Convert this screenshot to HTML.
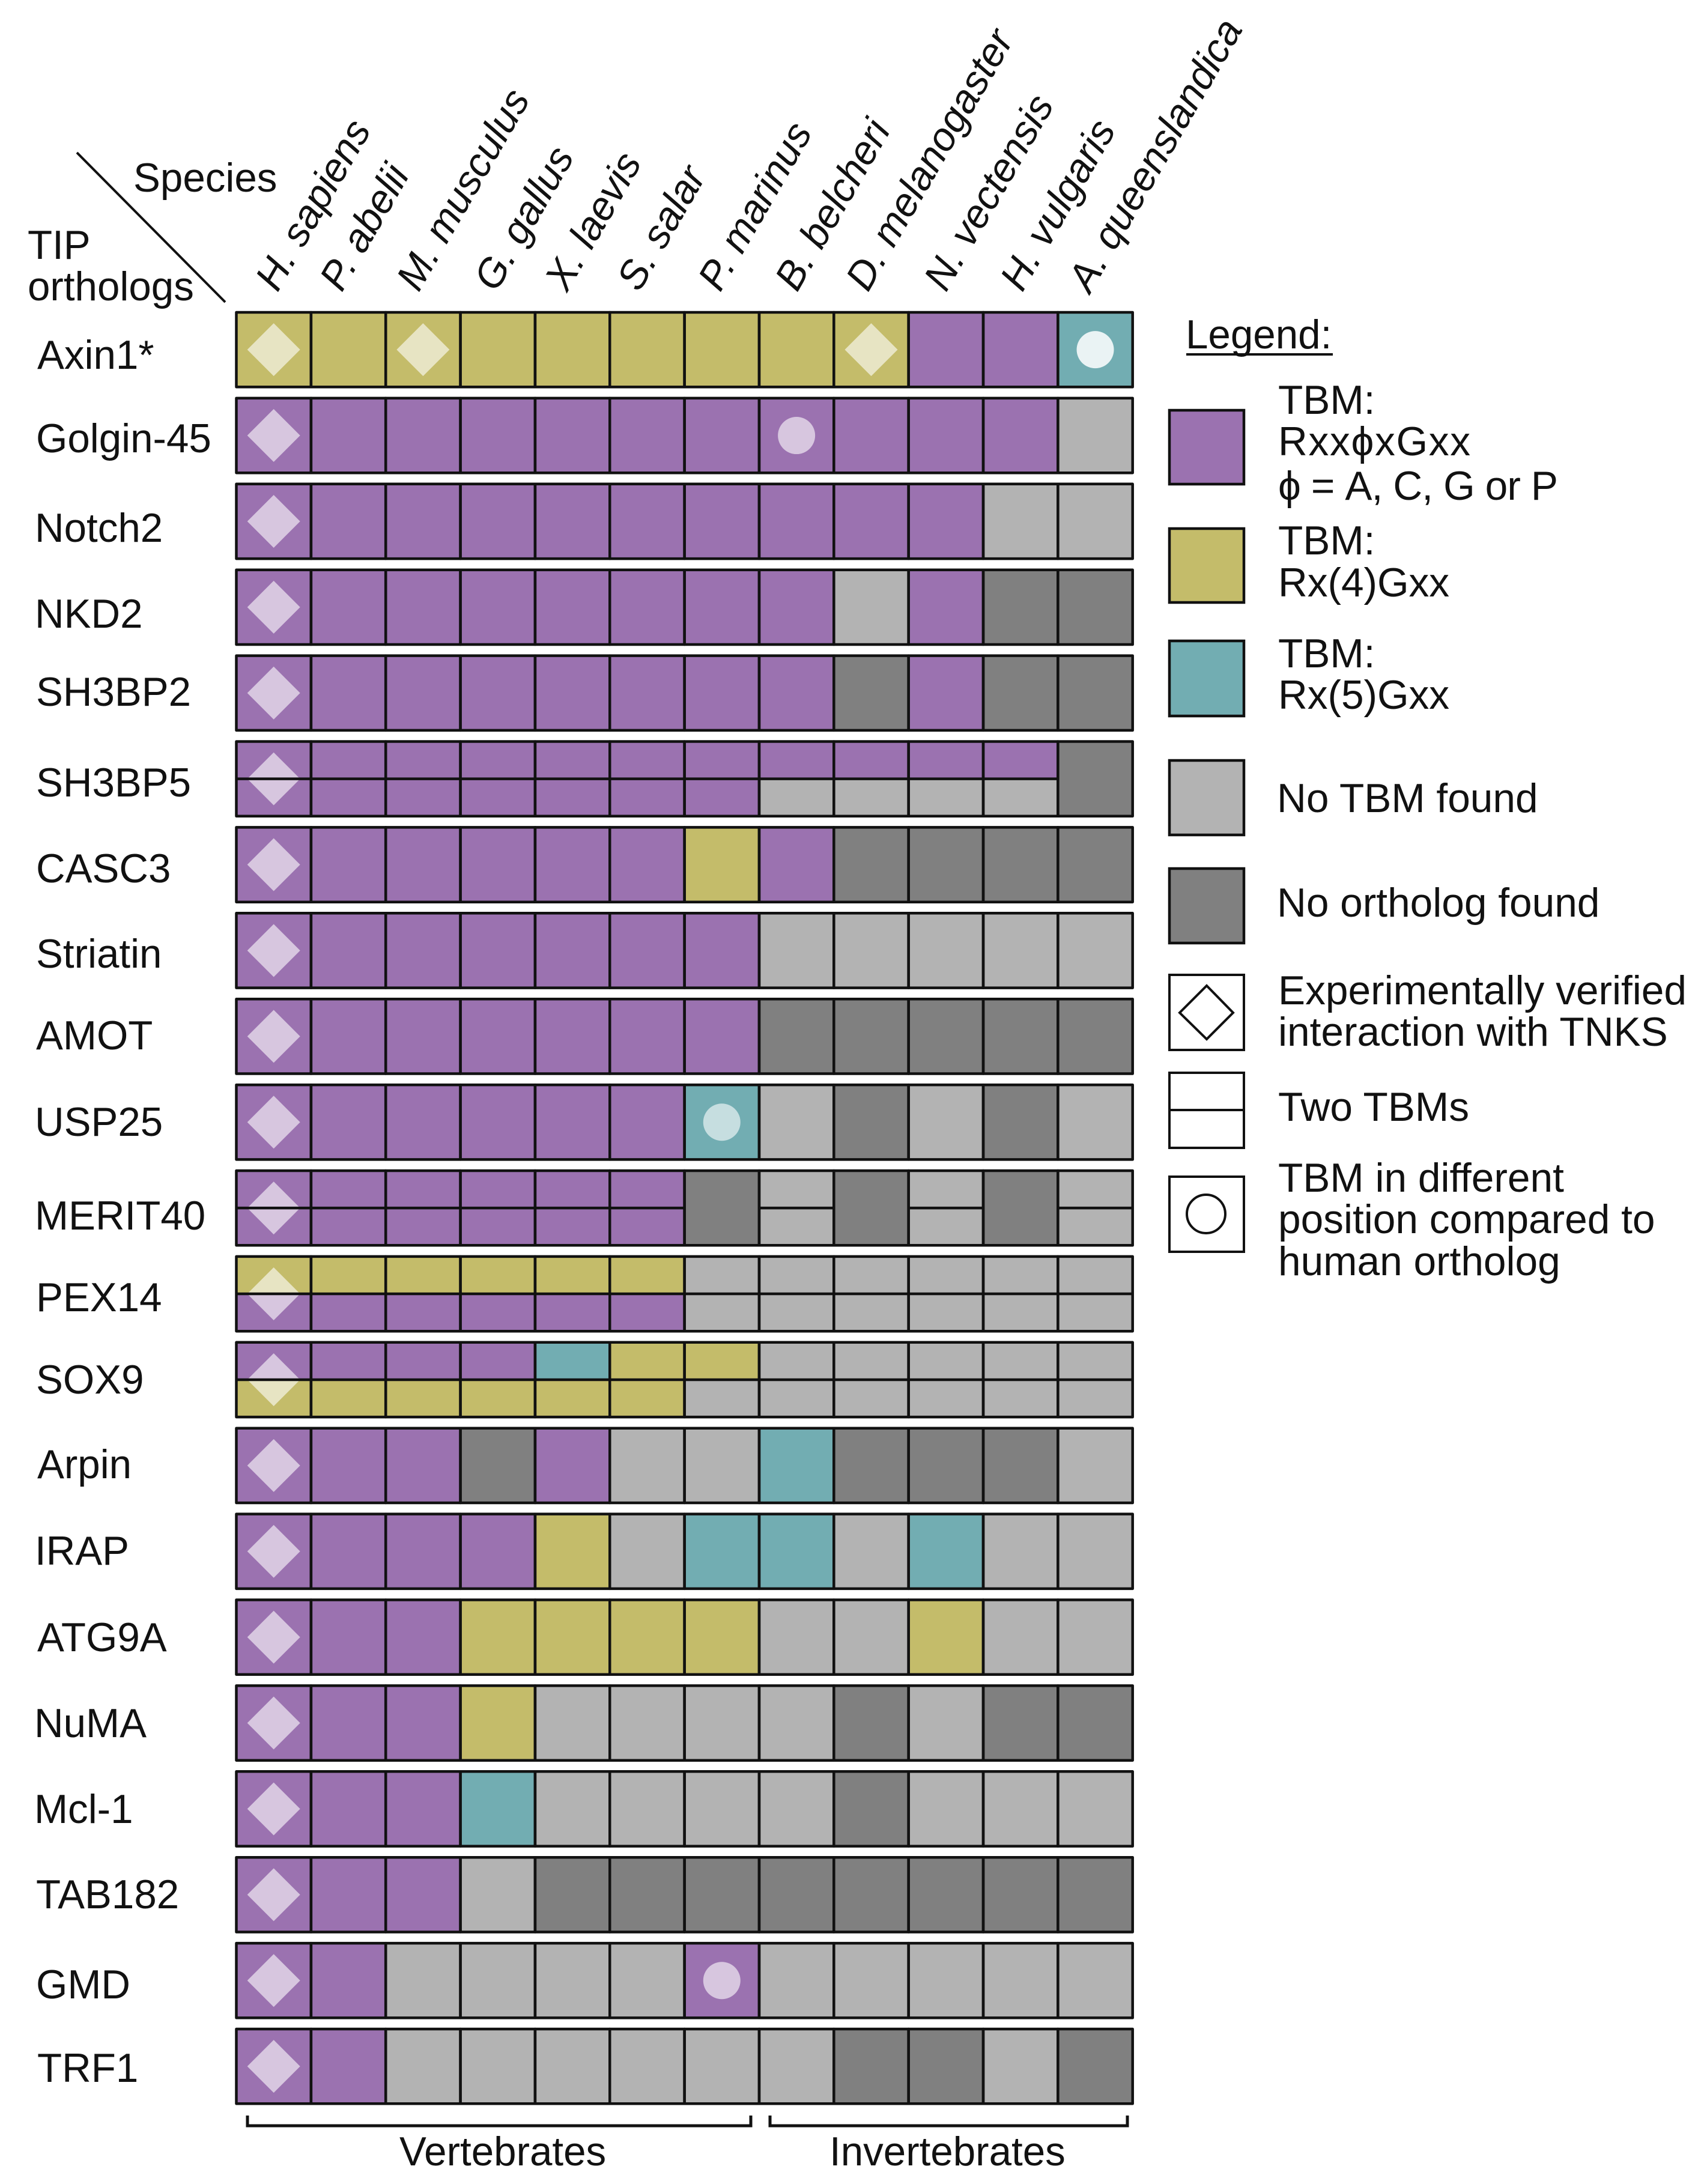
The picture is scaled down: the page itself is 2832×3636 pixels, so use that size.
<!DOCTYPE html>
<html lang="en">
<head>
<meta charset="utf-8">
<title>TBM conservation across species</title>
<style>
html,body{margin:0;padding:0;background:#fff;}
svg{display:block;}
text{font-family:"Liberation Sans",Arial,"DejaVu Sans",sans-serif;fill:#111;font-size:67.3px;}
.sp{font-style:italic;font-size:66.5px;}
.lg{font-size:67.6px;}
</style>
</head>
<body>
<svg id="chart" xmlns="http://www.w3.org/2000/svg" width="2832" height="3636" viewBox="0 0 2832 3636">
<rect x="0" y="0" width="2832" height="3636" fill="#ffffff"/>

<line x1="128" y1="254" x2="375" y2="503" stroke="#111" stroke-width="4"/>
<text x="222" y="319">Species</text>
<text x="46" y="431">TIP</text>
<text x="46" y="500">orthologs</text>

<g>
<text class="sp" transform="translate(462 488) rotate(-60)">H. sapiens</text>
<text class="sp" transform="translate(569 488) rotate(-60)">P. abelii</text>
<text class="sp" transform="translate(697 488) rotate(-60)">M. musculus</text>
<text class="sp" transform="translate(826 488) rotate(-60)">G. gallus</text>
<text class="sp" transform="translate(944 488) rotate(-60)">X. laevis</text>
<text class="sp" transform="translate(1064 488) rotate(-60)">S. salar</text>
<text class="sp" transform="translate(1199 488) rotate(-60)">P. marinus</text>
<text class="sp" transform="translate(1327 488) rotate(-60)">B. belcheri</text>
<text class="sp" transform="translate(1445 488) rotate(-60)">D. melanogaster</text>
<text class="sp" transform="translate(1575 488) rotate(-60)">N. vectensis</text>
<text class="sp" transform="translate(1702 488) rotate(-60)">H. vulgaris</text>
<text class="sp" transform="translate(1815 490) rotate(-60)">A. queenslandica</text>
</g>

<g>
<text x="62" y="614">Axin1*</text>
<text x="60" y="753">Golgin-45</text>
<text x="58" y="902">Notch2</text>
<text x="58" y="1045">NKD2</text>
<text x="60" y="1175">SH3BP2</text>
<text x="60" y="1326">SH3BP5</text>
<text x="60" y="1469">CASC3</text>
<text x="60" y="1611">Striatin</text>
<text x="60" y="1747">AMOT</text>
<text x="58" y="1891">USP25</text>
<text x="58" y="2047">MERIT40</text>
<text x="60" y="2183">PEX14</text>
<text x="60" y="2320">SOX9</text>
<text x="62" y="2461">Arpin</text>
<text x="58" y="2605">IRAP</text>
<text x="62" y="2749">ATG9A</text>
<text x="57" y="2892">NuMA</text>
<text x="57" y="3035">Mcl-1</text>
<text x="60" y="3177">TAB182</text>
<text x="60" y="3327">GMD</text>
<text x="62" y="3466">TRF1</text>
</g>

<g id="grid"></g>

<g>
<path d="M412 3522V3539H1250V3522" fill="none" stroke="#111" stroke-width="5"/>
<text x="665" y="3605">Vertebrates</text>
</g>
<g>
<path d="M1282 3522V3539H1877V3522" fill="none" stroke="#111" stroke-width="5"/>
<text x="1381" y="3605">Invertebrates</text>
</g>

<g>
<text x="1974" y="580">Legend:</text>
<line x1="1975" y1="590" x2="2219" y2="590" stroke="#111" stroke-width="4"/>

<rect x="1947" y="683" width="124" height="123" fill="#9B72B0" stroke="#111" stroke-width="4.5"/>
<text class="lg" x="2128" y="689">TBM:</text>
<text class="lg" x="2128" y="758" textLength="320">Rxx&#981;xGxx</text>
<text class="lg" x="2128" y="832" textLength="466">&#981; = A, C, G or P</text>

<rect x="1947" y="880" width="124" height="123" fill="#C4BC6A" stroke="#111" stroke-width="4.5"/>
<text class="lg" x="2128" y="923">TBM:</text>
<text class="lg" x="2128" y="993" textLength="285">Rx(4)Gxx</text>

<rect x="1947" y="1067" width="124" height="125" fill="#72ADB2" stroke="#111" stroke-width="4.5"/>
<text class="lg" x="2128" y="1111">TBM:</text>
<text class="lg" x="2128" y="1180" textLength="285">Rx(5)Gxx</text>

<rect x="1947" y="1266" width="124" height="124" fill="#B3B3B3" stroke="#111" stroke-width="4.5"/>
<text class="lg" x="2126" y="1352">No TBM found</text>

<rect x="1947" y="1446" width="124" height="124" fill="#808080" stroke="#111" stroke-width="4.5"/>
<text class="lg" x="2126" y="1526">No ortholog found</text>

<rect x="1947" y="1623" width="124" height="125" fill="#fff" stroke="#111" stroke-width="4"/>
<polygon points="2009,1641 2053,1686 2009,1730 1964,1686" fill="#fff" stroke="#111" stroke-width="4"/>
<text class="lg" x="2128" y="1672">Experimentally verified</text>
<text class="lg" x="2128" y="1741">interaction with TNKS</text>

<rect x="1947" y="1786" width="124" height="125" fill="#fff" stroke="#111" stroke-width="4"/>
<line x1="1947" y1="1848" x2="2071" y2="1848" stroke="#111" stroke-width="4"/>
<text class="lg" x="2128" y="1866">Two TBMs</text>

<rect x="1947" y="1959" width="124" height="125" fill="#fff" stroke="#111" stroke-width="4"/>
<circle cx="2008" cy="2021" r="32" fill="#fff" stroke="#111" stroke-width="4"/>
<text class="lg" x="2128" y="1984">TBM in different</text>
<text class="lg" x="2128" y="2053">position compared to</text>
<text class="lg" x="2128" y="2123">human ortholog</text>
</g>
</svg>

<script>
// Status codes: P = Rxx-phi-xGxx, Y = Rx(4)Gxx, T = Rx(5)Gxx, G = no TBM found, D = no ortholog
const species = ['H. sapiens','P. abelii','M. musculus','G. gallus','X. laevis','S. salar','P. marinus','B. belcheri','D. melanogaster','N. vectensis','H. vulgaris','A. queenslandica'];
const proteins = ['Axin1','Golgin-45','Notch2','NKD2','SH3BP2','SH3BP5','CASC3','Striatin','AMOT','USP25','MERIT40','PEX14','SOX9','Arpin','IRAP','ATG9A','NuMA','Mcl-1','TAB182','GMD','TRF1'];

const axin1   = ['Y','Y','Y','Y','Y','Y','Y','Y','Y','P','P','T'];
const golgin45= ['P','P','P','P','P','P','P','P','P','P','P','G'];
const notch2  = ['P','P','P','P','P','P','P','P','P','P','G','G'];
const nkd2    = ['P','P','P','P','P','P','P','P','G','P','D','D'];
const sh3bp2  = ['P','P','P','P','P','P','P','P','D','P','D','D'];
const sh3bp5  = ['P','P','P','P','P','P','P','P','P','P','P','D'];
const casc3   = ['P','P','P','P','P','P','Y','P','D','D','D','D'];
const striatin= ['P','P','P','P','P','P','P','G','G','G','G','G'];
const amot    = ['P','P','P','P','P','P','P','D','D','D','D','D'];
const usp25   = ['P','P','P','P','P','P','T','G','D','G','D','G'];
const merit40 = ['P','P','P','P','P','P','D','G','D','G','D','G'];
const pex14   = ['Y','Y','Y','Y','Y','Y','G','G','G','G','G','G'];
const sox9    = ['P','P','P','P','T','Y','Y','G','G','G','G','G'];
const arpin   = ['P','P','P','D','P','G','G','T','D','D','D','G'];
const irap    = ['P','P','P','P','Y','G','T','T','G','T','G','G'];
const atg9a   = ['P','P','P','Y','Y','Y','Y','G','G','Y','G','G'];
const numa    = ['P','P','P','Y','G','G','G','G','D','G','D','D'];
const mcl1    = ['P','P','P','T','G','G','G','G','D','G','G','G'];
const tab182  = ['P','P','P','G','D','D','D','D','D','D','D','D'];
const gmd     = ['P','P','G','G','G','G','P','G','G','G','G','G'];
const trf1    = ['P','P','G','G','G','G','G','G','D','D','G','D'];

// Second TBM for rows with two motifs; null = the cell holds a single status
const sh3bp5Second  = ['P','P','P','P','P','P','P','G','G','G','G',null];
const merit40Second = ['P','P','P','P','P','P',null,'G',null,'G',null,'G'];
const pex14Second   = ['P','P','P','P','P','P','G','G','G','G','G','G'];
const sox9Second    = ['Y','Y','Y','Y','Y','Y','G','G','G','G','G','G'];

const primaryStatus = [axin1,golgin45,notch2,nkd2,sh3bp2,sh3bp5,casc3,striatin,amot,usp25,merit40,pex14,sox9,arpin,irap,atg9a,numa,mcl1,tab182,gmd,trf1];
const secondaryStatus = {5:sh3bp5Second,10:merit40Second,11:pex14Second,12:sox9Second};

// Experimentally verified species (column indices) per ortholog
const verifiedColumns = [[0,2,8],[0],[0],[0],[0],[0],[0],[0],[0],[0],[0],[0],[0],[0],[0],[0],[0],[0],[0],[0],[0]];
// Different-position TBMs as [protein index, species index]
const shiftedMotifs = [[0,11],[1,7],[9,6],[19,6]];

const statusColor = {P:'#9B72B0',Y:'#C4BC6A',T:'#72ADB2',G:'#B3B3B3',D:'#808080'};

const SVGNS = 'http://www.w3.org/2000/svg';
const gridLeft = 393.5, colStep = 124.35, gridTop = 520, rowStep = 142.9, rowHeight = 124.3;
function xAxis(col){ return gridLeft + col * colStep; }
function yAxis(row){ return gridTop + row * rowStep; }
function slug(s){ return s.toLowerCase().replace(/[^a-z0-9]+/g,'-').replace(/^-|-$/g,''); }

const grid = document.getElementById('grid');
const strokeLayer = document.createElementNS(SVGNS,'g');



function addRect(parent,x,y,w,h,fill,name){
  const r = document.createElementNS(SVGNS,'rect');
  r.setAttribute('x',x); r.setAttribute('y',y);
  r.setAttribute('width',w); r.setAttribute('height',h);
  r.setAttribute('fill',fill);
  
  
  parent.appendChild(r);
  return r;
}

primaryStatus.forEach(function(status,row){
  const second = secondaryStatus[row] || null;
  status.forEach(function(code,col){
    const x = xAxis(col), y = yAxis(row);
    const base = 'cell-' + slug(proteins[row]) + '-' + slug(species[col]);
    const split = second && second[col] !== null;
    if (split) {
      addRect(grid,x,y,colStep,rowHeight/2,statusColor[code],base + '-upper');
      addRect(grid,x,y+rowHeight/2,colStep,rowHeight/2,statusColor[second[col]],base + '-lower');
    } else {
      addRect(grid,x,y,colStep,rowHeight,statusColor[code],base);
    }
    const o = addRect(strokeLayer,x,y,colStep,rowHeight,'none',base + '-outline');
    o.setAttribute('stroke','#111');
    o.setAttribute('stroke-width','4.5');
    o.setAttribute('stroke-linejoin','round');
    if (split) {
      const l = document.createElementNS(SVGNS,'line');
      l.setAttribute('x1',x); l.setAttribute('x2',x+colStep);
      l.setAttribute('y1',y+rowHeight/2); l.setAttribute('y2',y+rowHeight/2);
      l.setAttribute('stroke','#111');
      l.setAttribute('stroke-width','4.5');
      
      
      strokeLayer.appendChild(l);
    }
  });
});

verifiedColumns.forEach(function(cols,row){
  cols.forEach(function(col){
    const cx = xAxis(col) + colStep/2, cy = yAxis(row) + rowHeight/2, h = 44;
    const d = document.createElementNS(SVGNS,'polygon');
    d.setAttribute('points',[cx,cy-h,cx+h,cy,cx,cy+h,cx-h,cy].join(' '));
    d.setAttribute('fill','#fff');
    d.setAttribute('fill-opacity','0.6');
    
    
    grid.appendChild(d);
  });
});

shiftedMotifs.forEach(function(m){
  const c = document.createElementNS(SVGNS,'circle');
  c.setAttribute('cx',xAxis(m[1]) + colStep/2);
  c.setAttribute('cy',yAxis(m[0]) + rowHeight/2);
  c.setAttribute('r','31');
  c.setAttribute('fill','#fff');
  c.setAttribute('fill-opacity',m[0] === 0 ? '0.85' : '0.6');
  
  
  grid.appendChild(c);
});

grid.appendChild(strokeLayer);
</script>
</body>
</html>
